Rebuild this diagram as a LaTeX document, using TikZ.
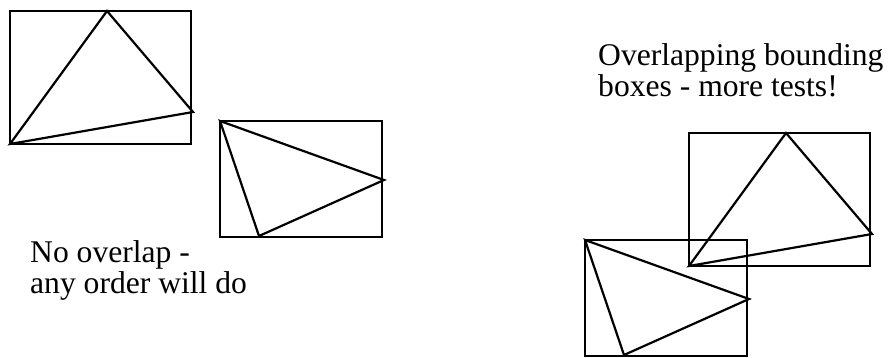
\documentclass[tikz,border=0pt]{standalone}
\usepackage{fontspec}
\setmainfont{Liberation Serif}
\usepackage{tikz}
\usetikzlibrary{positioning}
\tikzset{
    outline/.style={
        draw=black,
        line width=2.2pt
    },
    caption/.style={
        font=\fontsize{31.6}{31}\selectfont,
        align=left,
        anchor=north west,
        inner sep=0pt
    }
}
\begin{document}
\begin{tikzpicture}[x=1pt, y=-1pt]
    \useasboundingbox (0,0) rectangle (888,358);
    % Wide boxes with triangles touching top and right
    \foreach \dx/\dy in {0/0, 679/122} {
        \begin{scope}[shift={(\dx,\dy)}]
            \coordinate (wl) at (10,144);
            \coordinate (wt) at (107,11);
            \coordinate (wr) at (193,112);
            \draw[outline] (10,11) rectangle (191,144);
            \draw[outline] (wl) -- (wt) -- (wr) -- cycle;
        \end{scope}
    }
    % Smaller boxes with triangles touching left and bottom
    \foreach \dx/\dy in {0/0, 365/119} {
        \begin{scope}[shift={(\dx,\dy)}]
            \coordinate (nl) at (220,121);
            \coordinate (nr) at (384,180);
            \coordinate (nb) at (259,236);
            \draw[outline] (220,121) rectangle (382,237);
            \draw[outline] (nl) -- (nr) -- (nb) -- cycle;
        \end{scope}
    }
    % Captions
    \node[caption] (nooverlap) at (30,240) {No overlap -\\any order will do};
    \node[caption] (overlap) at (598,43) {Overlapping bounding\\boxes - more tests!};
\end{tikzpicture}
\end{document}
